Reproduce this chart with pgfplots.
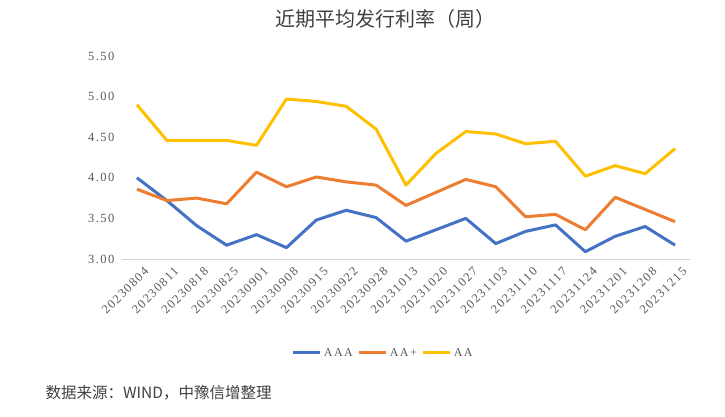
\documentclass[border=0pt]{standalone}
\usepackage{pgfplots}
\pgfplotsset{compat=1.18}
\usepackage{fontspec}
\setmainfont{Liberation Serif}
\newfontfamily\numfont[LetterSpace=12]{Liberation Serif}
\newfontfamily\cjk{Noto Sans CJK SC}

\definecolor{cAAA}{HTML}{4472C4}
\definecolor{cAAp}{HTML}{ED7D31}
\definecolor{cAA}{HTML}{FFC000}
\definecolor{txt}{HTML}{595959}
\definecolor{dtxt}{HTML}{404040}

\pgfplotstableread{
idx AAA AAp AA
0  4.00 3.86 4.90
1  3.72 3.72 4.46
2  3.41 3.75 4.46
3  3.17 3.68 4.46
4  3.30 4.07 4.40
5  3.14 3.89 4.97
6  3.48 4.01 4.94
7  3.60 3.95 4.88
8  3.51 3.91 4.60
9  3.22 3.66 3.91
10 3.36 3.82 4.30
11 3.50 3.98 4.57
12 3.19 3.89 4.54
13 3.34 3.52 4.42
14 3.42 3.55 4.45
15 3.09 3.36 4.02
16 3.28 3.76 4.15
17 3.40 3.61 4.05
18 3.17 3.46 4.36
}\rates

\begin{document}
\begin{tikzpicture}[x=1pt,y=1pt]
\path[use as bounding box] (0,0) rectangle (725,416);
\node[text=dtxt, font=\cjk\fontsize{20}{20}\selectfont] at (385,397) {近期平均发行利率（周）};
\node[text=dtxt, anchor=west, font=\cjk\fontsize{15.5}{15.5}\selectfont] at (42,23) {数据来源：WIND，中豫信增整理};
\begin{axis}[
    at={(122pt,157pt)}, anchor=south west,
    scale only axis,
    width=568pt, height=203pt,
    xmin=-0.5, xmax=18.5,
    ymin=3, ymax=5.5,
    ytick={3,3.5,4,4.5,5,5.5},
    xtick=data,
    xticklabels={20230804,20230811,20230818,20230825,20230901,20230908,20230915,20230922,20230928,20231013,20231020,20231027,20231103,20231110,20231117,20231124,20231201,20231208,20231215},
    axis x line*=bottom, axis y line*=left,
    x axis line style={draw=black!18, line width=0.8pt, -},
    y axis line style={draw=none},
    major tick length=0pt,
    /pgf/number format/assume math mode=true,
    /pgf/number format/.cd, fixed, fixed zerofill, precision=2, /pgfplots/.cd,
    yticklabel style={text=txt, font=\numfont\fontsize{12.5}{12.5}\selectfont, xshift=-4pt},
    xticklabel style={text=txt, font=\numfont\fontsize{12.5}{12.5}\selectfont, rotate=45, anchor=east, yshift=-14pt, xshift=3pt},
    legend style={at={(0.46,-0.463)}, anchor=center, draw=none, fill=none,
        legend columns=3, font=\numfont\fontsize{12}{12}\selectfont, text=txt,
        /tikz/every even column/.append style={column sep=3pt}},
    legend image code/.code={\draw[#1] (0pt,0pt) -- (27pt,0pt);},
    every axis plot/.append style={line width=3pt, line join=round, mark=none},
]
\addplot[cAAA] table[x=idx, y=AAA] {\rates};
\addplot[cAAp] table[x=idx, y=AAp] {\rates};
\addplot[cAA] table[x=idx, y=AA] {\rates};
\legend{AAA, AA+, AA}
\end{axis}
\end{tikzpicture}
\end{document}
